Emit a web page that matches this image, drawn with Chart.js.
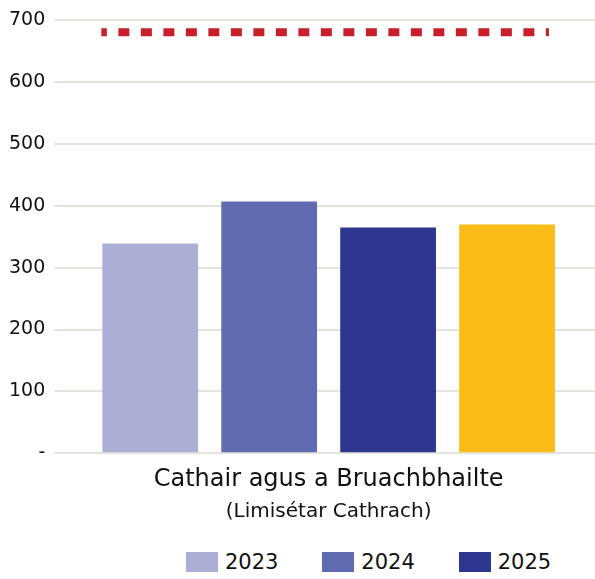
<!DOCTYPE html>
<html>
<head>
<meta charset="utf-8">
<script src="https://cdn.jsdelivr.net/npm/chart.js@4/dist/chart.umd.min.js"></script>
<style>
  html, body { margin: 0; padding: 0; background: #fff; }
  #wrap { width: 595px; height: 530px; position: relative; }
  #legend { display: flex; padding: 14px 0 0 186px; height: 35px; font-family: "DejaVu Sans", sans-serif; font-size: 21px; color: #111; }
  #legend .item { width: 138px; display: flex; align-items: center; }
  #legend .box { width: 32px; height: 20px; margin-right: 7px; }
</style>
</head>
<body>
<div id="wrap"><canvas id="chart"></canvas></div>
<div id="legend"></div>
<script>
// data
const category = ['Cathair agus a Bruachbhailte'];
const subTitle = '(Limisétar Cathrach)';
const years = ['2023', '2024', '2025'];
const yearValues = [339, 407, 365];
const otherValue = [370];
const targetValue = 681;

const yearColors = ['#abaed5', '#606bb2', '#2e3690'];
const otherColor = '#fbbc18';
const targetColor = '#c8202a';
const fontFamily = '"DejaVu Sans", sans-serif';

const datasets = years.map((year, i) => ({
    label: year,
    data: [yearValues[i]],
    backgroundColor: yearColors[i],
    categoryPercentage: 0.893,
    barPercentage: 0.805,
}));
datasets.push({
    label: '',
    data: otherValue,
    backgroundColor: otherColor,
    categoryPercentage: 0.893,
    barPercentage: 0.805,
});

// dashed target line across the bar group, placed with the y scale
const targetLine = {
    id: 'targetLine',
    afterDatasetsDraw(chart) {
        const first = chart.getDatasetMeta(0).data[0];
        const last = chart.getDatasetMeta(chart.data.datasets.length - 1).data[0];
        const y = chart.scales.y.getPixelForValue(targetValue);
        const x0 = first.x - first.width / 2 - 1;
        const x1 = last.x + last.width / 2 - 6;
        const ctx = chart.ctx;
        ctx.save();
        ctx.strokeStyle = targetColor;
        ctx.lineWidth = 8;
        ctx.setLineDash([11, 11.5]);
        ctx.lineDashOffset = 5.5;
        ctx.beginPath();
        ctx.moveTo(x0, y);
        ctx.lineTo(x1, y);
        ctx.stroke();
        ctx.restore();
    }
};

const chart = new Chart(document.getElementById('chart'), {
    type: 'bar',
    data: { labels: category, datasets },
    plugins: [targetLine],
    options: {
        responsive: true,
        maintainAspectRatio: false,
        animation: false,
        layout: { padding: { top: 10, right: 0, left: 0, bottom: 4 } },
        plugins: {
            tooltip: { enabled: false },
            legend: { display: false },
        },
        scales: {
            x: {
                grid: { display: false, drawTicks: false },
                border: { display: false },
                ticks: {
                    color: '#111',
                    padding: 12,
                    font: { family: fontFamily, size: 24 },
                },
                title: {
                    display: true,
                    text: subTitle,
                    color: '#111',
                    padding: { top: -6, bottom: 2 },
                    font: { family: fontFamily, size: 20 },
                },
            },
            y: {
                min: 0,
                max: 700,
                border: { display: false },
                grid: { color: '#e4e4df', lineWidth: 2, drawTicks: true, tickLength: 8 },
                ticks: {
                    stepSize: 100,
                    padding: 9,
                    color: '#111',
                    font: { family: fontFamily, size: 19 },
                    callback: (value) => (value === 0 ? '-' : value),
                },
            },
        },
    },
});

// legend for the year series only
const legendEl = document.getElementById('legend');
years.forEach((year, i) => {
    const item = document.createElement('div');
    item.className = 'item';
    const box = document.createElement('span');
    box.className = 'box';
    box.style.background = yearColors[i];
    item.appendChild(box);
    item.appendChild(document.createTextNode(year));
    legendEl.appendChild(item);
});
</script>
</body>
</html>
